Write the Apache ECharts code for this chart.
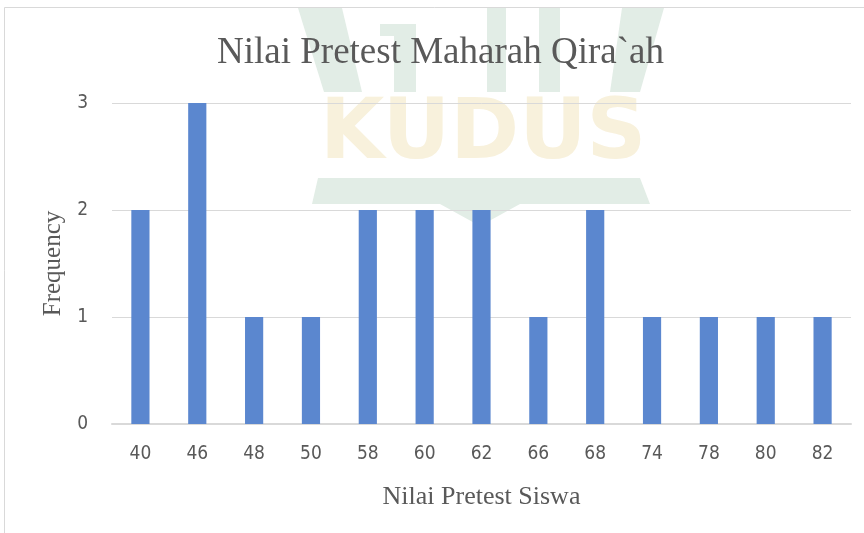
<!DOCTYPE html>
<html>
<head>
<meta charset="utf-8">
<script src="https://cdn.jsdelivr.net/npm/echarts@6/dist/echarts.min.js"></script>
<style>
  html, body { margin: 0; padding: 0; background: #fff; }
  #chart { width: 864px; height: 533px; }
</style>
</head>
<body>
<div id="chart"></div>
<script>
  const scores = ['40', '46', '48', '50', '58', '60', '62', '66', '68', '74', '78', '80', '82'];
  const frequency = [2, 3, 1, 1, 2, 2, 2, 1, 2, 1, 1, 1, 1];

  const chart = echarts.init(document.getElementById('chart'));
  const textColor = '#595959';
  const markGreen = '#e2ede6';
  const labelFont = "'DejaVu Sans Condensed', 'Liberation Sans', sans-serif";

  // faint logo watermark behind the plot
  const watermark = [
    { type: 'polygon', z: -10, shape: { points: [[298, 8], [342, 8], [362, 92], [324, 92]] }, style: { fill: markGreen } },
    { type: 'polygon', z: -10, shape: { points: [[380, 24], [416, 24], [416, 92], [394, 92], [394, 36], [380, 36]] }, style: { fill: markGreen } },
    { type: 'rect', z: -10, shape: { x: 487, y: 8, width: 19, height: 84 }, style: { fill: markGreen } },
    { type: 'rect', z: -10, shape: { x: 539, y: 8, width: 21, height: 84 }, style: { fill: markGreen } },
    { type: 'polygon', z: -10, shape: { points: [[622, 8], [664, 8], [640, 92], [610, 92]] }, style: { fill: markGreen } },
    {
      type: 'polygon', z: -10,
      shape: { points: [[318, 178], [640, 178], [650, 204], [520, 204], [480, 226], [440, 204], [312, 204]] },
      style: { fill: markGreen }
    },
    {
      type: 'text', z: -10, left: 320, top: 95,
      style: { text: 'KUDUS', fontFamily: 'DejaVu Sans', fontWeight: 'bold', fontSize: 83, fill: '#f8f1dc' }
    }
  ];

  chart.setOption({
    animation: false,
    backgroundColor: '#fff',
    title: {
      text: 'Nilai Pretest Maharah Qira`ah',
      left: 212,
      top: 30,
      textStyle: {
        fontFamily: 'Liberation Serif',
        fontWeight: 'normal',
        fontSize: 37,
        color: textColor
      }
    },
    graphic: watermark.concat([
      {
        type: 'rect',
        shape: { x: 4.5, y: 7.5, width: 880, height: 560 },
        z: -20,
        style: { fill: 'none', stroke: '#d9d9d9', lineWidth: 1 }
      }
    ]),
    grid: {
      left: 112,
      right: 13,
      top: 103,
      bottom: 109
    },
    xAxis: {
      type: 'category',
      data: scores,
      name: 'Nilai Pretest Siswa',
      nameLocation: 'middle',
      nameGap: 60,
      nameTextStyle: {
        fontFamily: 'Liberation Serif',
        fontSize: 26,
        color: textColor
      },
      axisLine: { lineStyle: { color: '#d9d9d9', width: 2 } },
      axisTick: { show: false },
      axisLabel: {
        margin: 21,
        fontFamily: labelFont,
        fontSize: 19,
        color: textColor
      }
    },
    yAxis: {
      type: 'value',
      min: 0,
      max: 3,
      interval: 1,
      name: 'Frequency',
      nameLocation: 'middle',
      nameGap: 44,
      nameRotate: 90,
      nameTextStyle: {
        fontFamily: 'Liberation Serif',
        fontSize: 25,
        color: textColor
      },
      axisLabel: {
        margin: 24,
        fontFamily: labelFont,
        fontSize: 19,
        color: textColor
      },
      splitLine: { lineStyle: { color: '#d9d9d9', width: 1 } }
    },
    series: [
      {
        type: 'bar',
        data: frequency,
        barWidth: '32%',
        itemStyle: { color: '#5b87cf' }
      }
    ]
  });
</script>
</body>
</html>
